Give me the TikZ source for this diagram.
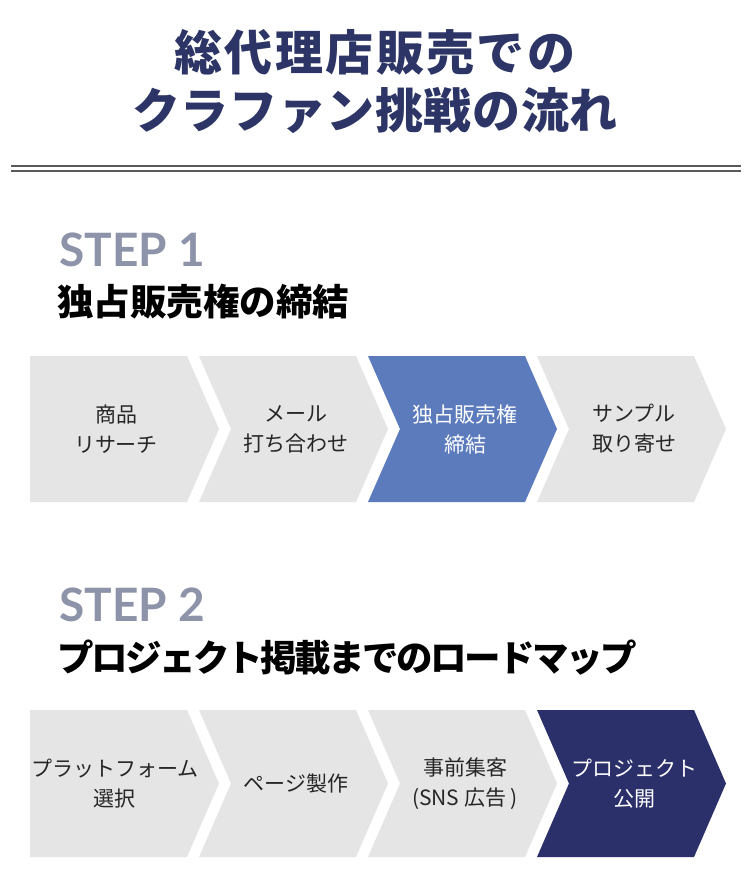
\documentclass[tikz,border=0pt]{standalone}
\usepackage{fontspec}
\setmainfont{Noto Sans CJK JP}
\newfontfamily\stepfont{Lato}
\usetikzlibrary{positioning}

\definecolor{titlenavy}{HTML}{2C3565}
\definecolor{stepgray}{HTML}{8D93A8}
\definecolor{rulegray}{HTML}{5A5A5A}
\definecolor{chevgray}{HTML}{E5E5E5}
\definecolor{chevblue}{HTML}{5B7BBD}
\definecolor{chevnavy}{HTML}{2B2F6A}
\definecolor{textdark}{HTML}{262626}

\tikzset{
    title/.style={font=\fontsize{48}{56}\selectfont\bfseries\addfontfeature{LetterSpace=#1}, text=titlenavy},
    steplbl/.style={font=\stepfont\bfseries\fontsize{46}{50}\selectfont, text=stepgray, anchor=west, inner sep=0pt},
    heading/.style={font=\fontsize{36.5}{40}\selectfont\bfseries\addfontfeature{LetterSpace=#1}, text=black, anchor=west, inner sep=0pt},
    chevtext/.style={align=center, font=\fontsize{21}{30}\selectfont, text=#1},
    rule/.style={draw=rulegray, line width=1.2pt}
}

\begin{document}
\begin{tikzpicture}[x=1pt,y=-1pt]
\useasboundingbox[fill=white] (0,0) rectangle (750,887);

% Title
\node[title=5] (title1) at (375,52) {総代理店販売での};
\node[title=1.3] (title2) at (375,111) {クラファン挑戦の流れ};

% Double rule under the title
\draw[rule] (11,166) -- (741,166);
\draw[rule] (11,171) -- (741,171);

% STEP 1
\node[steplbl] (step1) at (59,250) {STEP 1};
\node[heading=0] (head1) at (57,302) {独占販売権の締結};

% first chevron of row 1 (flat left end)
\fill[chevgray] (30,356) -- ++(157,0) -- ++(32,73) -- ++(-32,73) -- ++(-157,0) -- cycle;
\node[chevtext=textdark] (r1n0) at (116,429) {商品\\リサーチ};

\foreach \k/\fc/\tc/\lbl in {1/chevgray/textdark/{メール\\打ち合わせ},
                             2/chevblue/white/{独占販売権\\締結},
                             3/chevgray/textdark/{サンプル\\取り寄せ}} {
    \pgfmathsetmacro\xa{30+169*\k}
    \fill[\fc] (\xa,356) -- ++(157,0) -- ++(32,73) -- ++(-32,73) -- ++(-157,0) -- ++(32,-73) -- cycle;
    \node[chevtext=\tc] (r1n\k) at (\xa+97,429) {\lbl};
}

% STEP 2
\node[steplbl] (step2) at (59,605) {STEP 2};
\node[heading=-7] (head2) at (57,658) {プロジェクト掲載までのロードマップ};

% first chevron of row 2
\fill[chevgray] (30,710) -- ++(157,0) -- ++(32,73.5) -- ++(-32,73.5) -- ++(-157,0) -- cycle;
\node[chevtext=textdark] (r2n0) at (115,784) {プラットフォーム\\選択};

\foreach \k/\fc/\tc/\lbl in {1/chevgray/textdark/{ページ製作},
                             2/chevgray/textdark/{事前集客\\(SNS 広告 )},
                             3/chevnavy/white/{プロジェクト\\公開}} {
    \pgfmathsetmacro\xa{30+169*\k}
    \fill[\fc] (\xa,710) -- ++(157,0) -- ++(32,73.5) -- ++(-32,73.5) -- ++(-157,0) -- ++(32,-73.5) -- cycle;
    \node[chevtext=\tc] (r2n\k) at (\xa+97,784) {\lbl};
}

\end{tikzpicture}
\end{document}
